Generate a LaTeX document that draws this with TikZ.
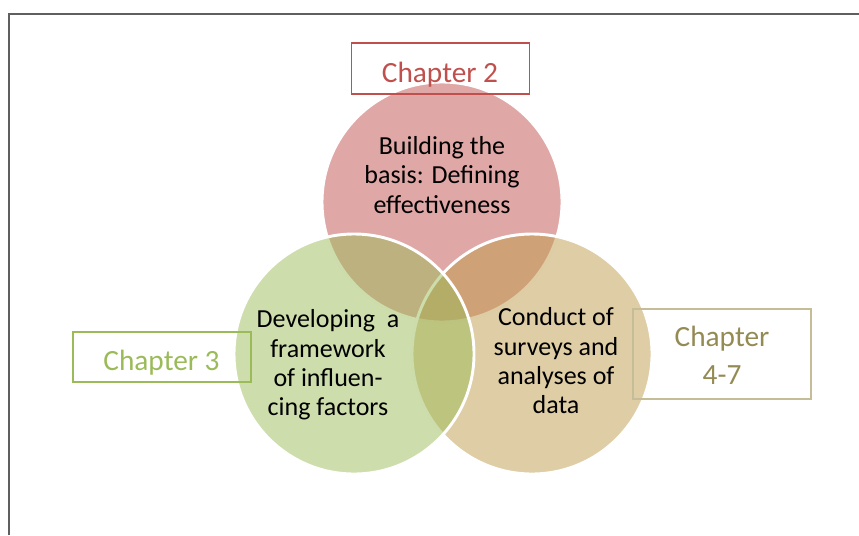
\documentclass[tikz,border=0pt]{standalone}
\usepackage{fontspec}
\setmainfont{Carlito}
\definecolor{redC}{HTML}{C0504D}
\definecolor{greenC}{HTML}{9BBB59}
\definecolor{tanC}{HTML}{BE9B4B}
\definecolor{tanText}{HTML}{948A54}
\definecolor{tanLine}{HTML}{C4BD97}
\definecolor{frameC}{HTML}{5F5F5F}
\tikzset{
  venn/.style={circle, minimum size=180pt, inner sep=0pt, outer sep=0pt, fill opacity=0.5, draw=white, line width=2.2pt},
  chbox/.style={rectangle, inner sep=0pt, line width=0.8pt, minimum width=133.5pt},
  chtext/.style={font=\fontsize{22}{28.5}\selectfont, inner sep=0pt, align=center},
  intext/.style={font=\fontsize{19.5}{22}\selectfont, text=black, inner sep=0pt, align=center}
}
\begin{document}
\begin{tikzpicture}[x=0.75pt, y=-0.75pt]
\useasboundingbox (0,0) rectangle (859,535);
% frame
\coordinate (fbl) at (9,535);
\coordinate (ftl) at (9,14);
\coordinate (ftr) at (859,14);
\draw[frameC, line width=1.5pt] (fbl) -- (ftl) -- (ftr);
% circles
\node[venn, fill=redC] (cred) at (442,202) {};
\node[venn, fill=tanC] (ctan) at (532,354) {};
\node[venn, fill=greenC] (cgreen) at (354,354) {};
% circle texts
\node[intext] (tred) at (442,175) {Building the\\basis: Defining\\effectiveness};
\node[intext] (tgreen) at (328,365) {Developing~~a\\framework\\of influen-\\cing factors};
\node[intext] (ttan) at (556,361) {Conduct of\\surveys and\\analyses of\\data};
% chapter boxes
\node[chbox, draw=redC, minimum height=38.25pt] (b2) at (440.5,68.5) {};
\node[chbox, draw=greenC, minimum height=37.5pt] (b3) at (162,357) {};
\node[chbox, draw=tanLine, minimum height=67.5pt] (b47) at (722,354) {};
\node[chtext, text=redC, anchor=base] (t2) at (440,82) {Chapter 2};
\node[chtext, text=greenC, anchor=base] (t3) at (161.5,370) {Chapter 3};
\node[chtext, text=tanText] (t47) at (722,355) {Chapter\\4-7};
\end{tikzpicture}
\end{document}
